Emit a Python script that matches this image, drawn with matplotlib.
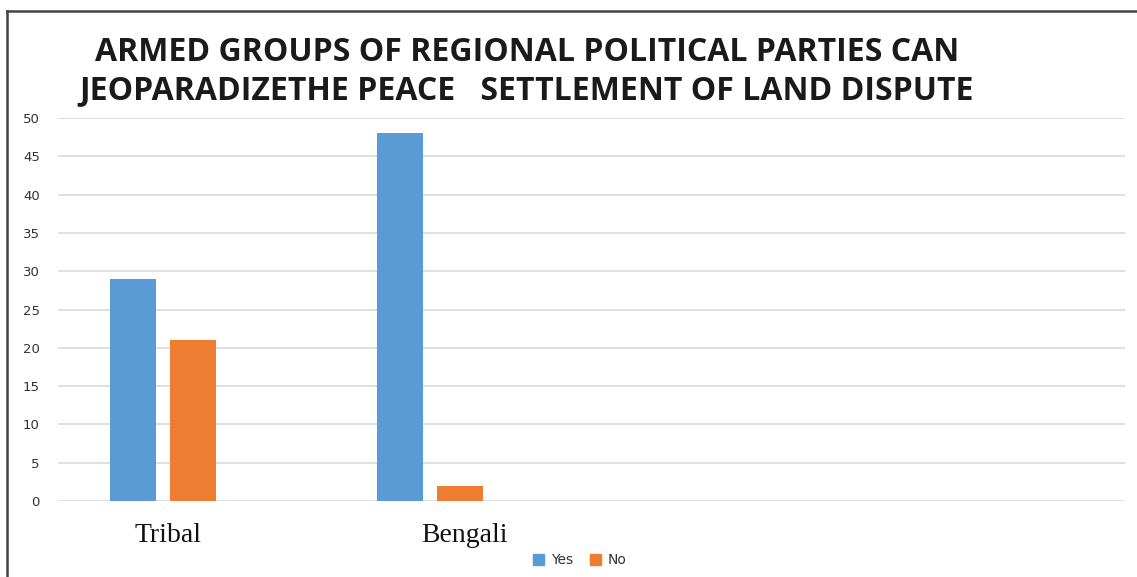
import matplotlib
matplotlib.use("Agg")
import matplotlib.pyplot as plt
from matplotlib.lines import Line2D
from matplotlib.patches import Patch
import numpy as np

title = "ARMED GROUPS OF REGIONAL POLITICAL PARTIES CAN\nJEOPARADIZETHE PEACE   SETTLEMENT OF LAND DISPUTE"
groups = ["Tribal", "Bengali"]
series = ["Yes", "No"]
yes_vals = [29, 48]
no_vals = [21, 2]
yticks = list(range(0, 55, 5))

blue = "#5B9BD5"
orange = "#ED7D31"

fig = plt.figure(figsize=(11.37, 5.77), dpi=100)
ax = fig.add_axes([0.051, 0.1317, 0.9383, 0.6638])

x = np.arange(len(groups))
w = 0.172
ax.bar(x - 0.112, yes_vals, w, color=blue, zorder=3)
ax.bar(x + 0.112, no_vals, w, color=orange, zorder=3)

ax.set_xlim(-0.393, 3.60)
ax.set_ylim(0, 50)
ax.set_yticks(yticks)
ax.set_yticklabels([str(v) for v in yticks], fontsize=9.5, color="#333333",
                   family="DejaVu Sans")
ax.tick_params(axis="y", length=0, pad=13)
ax.set_xticks([])
ax.yaxis.grid(True, color="#D9D9D9", linewidth=1.2, zorder=0)
for s in ax.spines.values():
    s.set_visible(False)

# category names under the bars
for xi, name, dx in zip(x, groups, [0.02, 0.127]):
    ax.text(xi + dx, -4.5, name, ha="center", va="center", fontsize=20,
            family="Liberation Serif", color="#111111")

fig.text(0.4635, 0.876, title, ha="center", va="center", fontsize=23,
         fontweight="bold", family="Open Sans", color="#1a1a1a",
         linespacing=1.2)

handles = [Patch(color=blue), Patch(color=orange)]
fig.legend(handles, series, loc="center", bbox_to_anchor=(0.51, 0.029),
           ncol=2, frameon=False, fontsize=10, handlelength=0.8,
           handleheight=0.8, handletextpad=0.5, columnspacing=1.2,
           labelcolor="#333333")

# frame lines along the left and top edges
fig.add_artist(Line2D([0.0062, 0.0062], [0, 0.981], color="#444444",
                      linewidth=1.8, transform=fig.transFigure))
fig.add_artist(Line2D([0.0062, 1.0], [0.981, 0.981], color="#444444",
                      linewidth=1.8, transform=fig.transFigure))

fig.savefig("out.png", dpi=100)
